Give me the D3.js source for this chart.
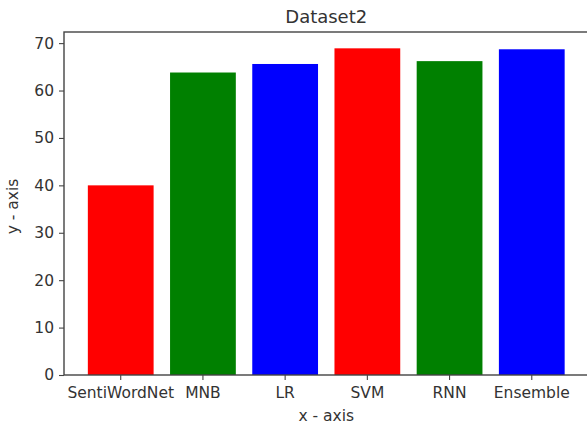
<!DOCTYPE html>
<html>
<head>
<meta charset="utf-8">
<script src="https://cdn.jsdelivr.net/npm/d3@7"></script>
<style>
  html, body { margin: 0; padding: 0; background: #fff; }
  svg { display: block; }
  text { font-family: "DejaVu Sans", sans-serif; fill: #333; }
</style>
</head>
<body>
<svg id="chart" width="587" height="424"></svg>
<script>
const categories = ["SentiWordNet", "MNB", "LR", "SVM", "RNN", "Ensemble"];
const values = [40.0, 63.8, 65.6, 68.9, 66.2, 68.7];
const barColors = ["#ff0000", "#008000", "#0000ff", "#ff0000", "#008000", "#0000ff"];
const yTicks = [0, 10, 20, 30, 40, 50, 60, 70];
const title = "Dataset2";
const xLabel = "x - axis";
const yLabel = "y - axis";

const svg = d3.select("#chart");
const mLeft = 64, mRight = 588.5, mTop = 32, mBottom = 375;

const x = d3.scaleBand().domain(categories).range([mLeft, mRight])
  .paddingInner(0.2).paddingOuter(0.29).align(0.5);
const y = d3.scaleLinear().domain([0, d3.max(values) * 1.05]).range([mBottom, mTop]);

svg.selectAll("rect.bar").data(values).join("rect")
  .attr("class", "bar")
  .attr("x", (d, i) => x(categories[i]))
  .attr("width", x.bandwidth())
  .attr("y", d => y(d))
  .attr("height", d => y(0) - y(d))
  .attr("fill", (d, i) => barColors[i]);

// frame
svg.append("rect")
  .attr("x", mLeft).attr("y", mTop)
  .attr("width", mRight - mLeft).attr("height", mBottom - mTop)
  .attr("fill", "none").attr("stroke", "#444").attr("stroke-width", 1.4);

const xAxis = svg.append("g").attr("transform", `translate(0,${mBottom})`)
  .call(d3.axisBottom(x).tickSize(5).tickPadding(7));
const yAxis = svg.append("g").attr("transform", `translate(${mLeft},0)`)
  .call(d3.axisLeft(y).tickValues(yTicks).tickSize(5).tickPadding(5));

[xAxis, yAxis].forEach(g => {
  g.select(".domain").remove();
  g.selectAll("line").attr("stroke", "#444").attr("stroke-width", 1.1);
  g.selectAll("text").attr("font-size", "15.5px").attr("fill", "#333")
    .style("font-family", "'DejaVu Sans', sans-serif");
});

svg.append("text")
  .attr("x", (mLeft + mRight) / 2).attr("y", 23)
  .attr("text-anchor", "middle").attr("font-size", "18px")
  .text(title);

svg.append("text")
  .attr("x", (mLeft + mRight) / 2).attr("y", 421)
  .attr("text-anchor", "middle").attr("font-size", "15.5px")
  .text(xLabel);

svg.append("text")
  .attr("transform", `translate(18,${(mTop + mBottom) / 2 + 3}) rotate(-90)`)
  .attr("text-anchor", "middle").attr("font-size", "15.5px")
  .text(yLabel);
</script>
</body>
</html>
